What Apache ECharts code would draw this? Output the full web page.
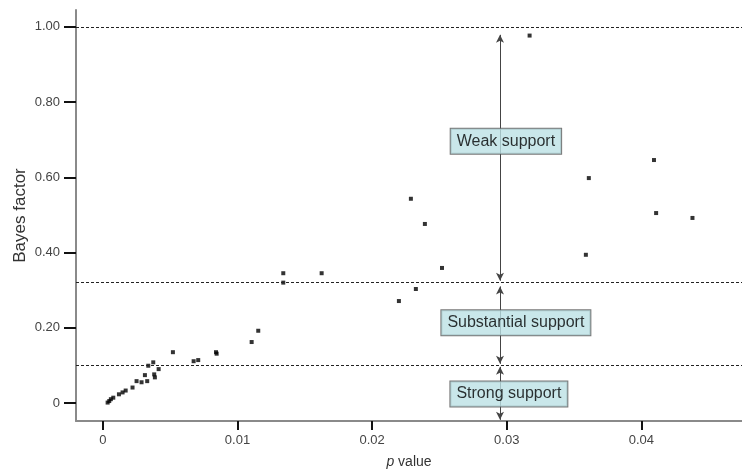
<!DOCTYPE html>
<html>
<head>
<meta charset="utf-8">
<script src="https://cdn.jsdelivr.net/npm/echarts/dist/echarts.min.js"></script>
<style>
html,body{margin:0;padding:0;background:#fff;}
#chart{width:742px;height:470px;}
</style>
</head>
<body>
<div id="chart"></div>
<script>
// p values (x) and Bayes factors (y)
var pValues = [0.00035,0.00047,0.00059,0.00077,0.00119,0.00146,0.00169,0.00220,0.00250,0.00287,
  0.00329,0.00312,0.00337,0.00374,0.00381,0.00386,0.00414,0.00520,0.00674,0.00708,
  0.00840,0.00845,0.01105,0.01154,0.01340,0.01340,0.01625,0.02199,0.02325,0.02288,
  0.02392,0.02519,0.03170,0.03588,0.03610,0.04094,0.04110,0.04380];
var bayesFactors = [0.001,0.005,0.010,0.014,0.023,0.028,0.033,0.041,0.058,0.055,
  0.058,0.074,0.099,0.108,0.076,0.068,0.090,0.135,0.111,0.114,
  0.135,0.131,0.162,0.192,0.345,0.320,0.345,0.271,0.303,0.543,
  0.476,0.359,0.977,0.394,0.598,0.646,0.505,0.492];
var yTickValues = [0, 0.2, 0.4, 0.6, 0.8, 1.0];
var xTickValues = [0, 0.01, 0.02, 0.03, 0.04];
var thresholds = [1.0, 0.316, 0.1];
var arrowP = 0.0295;
var arrowSegments = [[0.979, 0.325], [0.310, 0.104], [0.096, -0.045]];
var annotationTexts = ['Weak support', 'Substantial support', 'Strong support'];
var annotationP = [0.02994, 0.03068, 0.03016];
var annotationBF = [0.696, 0.213, 0.024];

var points = pValues.map(function (p, i) { return [p, bayesFactors[i]]; });
var annotations = annotationTexts.map(function (t, i) {
  return { name: t, value: [annotationP[i], annotationBF[i]] };
});
var arrowData = arrowSegments.map(function (s) {
  return [{ coord: [arrowP, s[0]] }, { coord: [arrowP, s[1]] }];
});

var chart = echarts.init(document.getElementById('chart'), null, { renderer: 'canvas', width: 742, height: 470 });
chart.setOption({
  animation: false,
  backgroundColor: '#fff',
  grid: { left: 76, right: 0, top: 10, bottom: 49, containLabel: false, outerBoundsMode: 'none' },
  xAxis: {
    type: 'value', min: -0.002, max: 0.04748,
    name: '{i|p} value', nameLocation: 'middle', nameGap: 34, nameMoveOverlap: false,
    nameTextStyle: { fontFamily: 'Arial, Liberation Sans', fontSize: 14, color: '#333',
      rich: { i: { fontStyle: 'italic', fontFamily: 'Arial, Liberation Sans', fontSize: 14, color: '#333' } } },
    splitLine: { show: false },
    axisLine: { show: true, onZero: false, lineStyle: { color: '#8a8a8a', width: 2 } },
    axisTick: { show: true, length: 9, customValues: xTickValues, lineStyle: { color: '#111', width: 2 } },
    axisLabel: { customValues: xTickValues, margin: 13, fontFamily: 'Arial, Liberation Sans', fontSize: 13, color: '#444',
      formatter: function (v) { return v === 0 ? '0' : String(+v.toFixed(2)); } }
  },
  yAxis: {
    type: 'value', min: -0.048, max: 1.045,
    name: 'Bayes factor', nameLocation: 'middle', nameGap: 47, nameMoveOverlap: false,
    nameTextStyle: { fontFamily: 'Arial, Liberation Sans', fontSize: 17, color: '#333' },
    splitLine: { show: false },
    axisLine: { show: true, onZero: false, lineStyle: { color: '#8a8a8a', width: 2 } },
    axisTick: { show: true, length: 12, customValues: yTickValues, lineStyle: { color: '#111', width: 2 } },
    axisLabel: { customValues: yTickValues, margin: 16, fontFamily: 'Arial, Liberation Sans', fontSize: 13, color: '#444',
      formatter: function (v) { return v === 0 ? '0' : v.toFixed(2); } }
  },
  series: [
    {
      type: 'scatter', data: points, symbol: 'rect', symbolSize: 4,
      itemStyle: { color: '#000' }, z: 3,
      markLine: {
        silent: true, symbol: 'none', label: { show: false },
        lineStyle: { type: [3, 2], color: '#222', width: 1 },
        data: thresholds.map(function (t) { return { yAxis: t }; })
      }
    },
    {
      type: 'scatter', data: [], z: 2,
      markLine: {
        silent: true, symbol: ['arrow', 'arrow'], symbolSize: [6, 8], label: { show: false },
        lineStyle: { type: 'solid', color: '#444', width: 1 },
        data: arrowData
      }
    },
    {
      type: 'scatter', data: annotations, symbolSize: 0, z: 10, silent: true,
      label: {
        show: true, position: 'inside', formatter: '{b}',
        fontFamily: 'Arial, Liberation Sans', fontSize: 16, color: '#000',
        backgroundColor: '#bce1e5', borderColor: '#555', borderWidth: 1,
        padding: [5, 6, 4, 6]
      }
    }
  ]
});
</script>
</body>
</html>
